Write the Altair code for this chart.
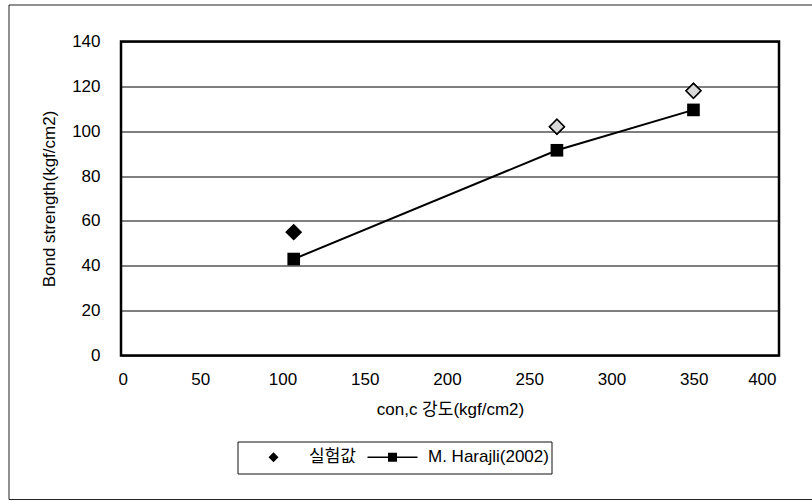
import altair as alt
import pandas as pd

# ---- data ----
conc = [105, 265, 348]                 # con,c 강도 (kgf/cm2)
test_vals = [55, 102, 118]             # 실험값
harajli_vals = [43, 91.5, 109.5]       # M. Harajli(2002)
series_names = ["실험값", "M. Harajli(2002)"]
x_ticks = [0, 50, 100, 150, 200, 250, 300, 350, 400]
y_ticks = [0, 20, 40, 60, 80, 100, 120, 140]

df_test = pd.DataFrame({"x": conc, "y": test_vals, "series": series_names[0]})
df_h = pd.DataFrame({"x": conc, "y": harajli_vals, "series": series_names[1]})

FONT = "Liberation Sans, Arial, Noto Sans CJK KR"
# legend symbol for the line series: a thin filled bar with a square in the middle
LINE_SQ = "M-5,-0.16H5V0.16H-5Z M-0.9,-0.9H0.9V0.9H-0.9Z"

W, H = 658, 314

xs = alt.X(
    "x:Q",
    scale=alt.Scale(domain=[0, 400], nice=False, zero=False),
    axis=alt.Axis(values=x_ticks, title="con,c 강도(kgf/cm2)", grid=False, ticks=False,
                  domain=False, labelPadding=16, labelOffset=-3, titlePadding=14),
)
ys = alt.Y(
    "y:Q",
    scale=alt.Scale(domain=[0, 140], nice=False),
    axis=alt.Axis(values=y_ticks, title="Bond strength(kgf/cm2)", grid=True, gridColor="black",
                  gridWidth=1, gridOpacity=1, ticks=False, domain=False,
                  labelPadding=21, titlePadding=13),
)

base_dummy = pd.DataFrame({"a": [0]})

frame = alt.Chart(base_dummy).mark_rect(fillOpacity=0, stroke="#222", strokeWidth=1).encode(
    x=alt.value(-112), x2=alt.value(720), y=alt.value(-36.5), y2=alt.value(458)
)
legend_box = alt.Chart(base_dummy).mark_rect(fillOpacity=0, stroke="#111", strokeWidth=1).encode(
    x=alt.value(117), x2=alt.value(431), y=alt.value(400.5), y2=alt.value(432.5)
)

line = alt.Chart(df_h).mark_line(color="black", strokeWidth=2).encode(x=xs, y=ys)
squares = alt.Chart(df_h).mark_point(filled=True, size=160, color="black", opacity=1).encode(
    x=xs, y=ys, shape=alt.value("square")
)
# diamonds (this layer carries the legend)
diamonds = alt.Chart(df_test).mark_point(
    filled=False, size=220, color="black", fill="black", stroke="black",
    strokeWidth=1.5, opacity=1, fillOpacity=1,
).encode(
    x=xs,
    y=ys,
    shape=alt.Shape(
        "series:N",
        scale=alt.Scale(domain=series_names, range=["diamond", LINE_SQ]),
        legend=alt.Legend(
            title=None, orient="none", direction="horizontal", legendX=144, legendY=407,
            symbolSize=100, symbolFillColor="black", symbolStrokeColor="black",
            symbolStrokeWidth=1.5, symbolOpacity=1,
            labelOffset=27, columnPadding=8,
            labelFont=FONT, labelFontSize=17, labelColor="black",
        ),
    ),
)
# lighter fill for the two right-hand test points, as in the reference
diamonds_light = alt.Chart(df_test).transform_filter("datum.x > 200").mark_point(
    filled=True, size=220, fill="#d9d9d9", stroke="black", strokeWidth=1.5, opacity=1,
).encode(x=xs, y=ys, shape=alt.value("diamond"))

chart = alt.layer(frame, legend_box, line, squares, diamonds, diamonds_light).properties(
    width=W, height=H,
    autosize=alt.AutoSizeParams(type="none"),
    padding={"left": 121, "top": 41.5, "right": 33, "bottom": 145.5},
    background="white",
).configure_view(
    stroke="black", strokeWidth=2.5
).configure_axis(
    labelFont=FONT, labelFontSize=17, labelColor="black",
    titleFont=FONT, titleFontSize=17, titleColor="black", titleFontWeight="normal",
)

chart.save("out.html", embed_options={"renderer": "svg", "actions": False})
